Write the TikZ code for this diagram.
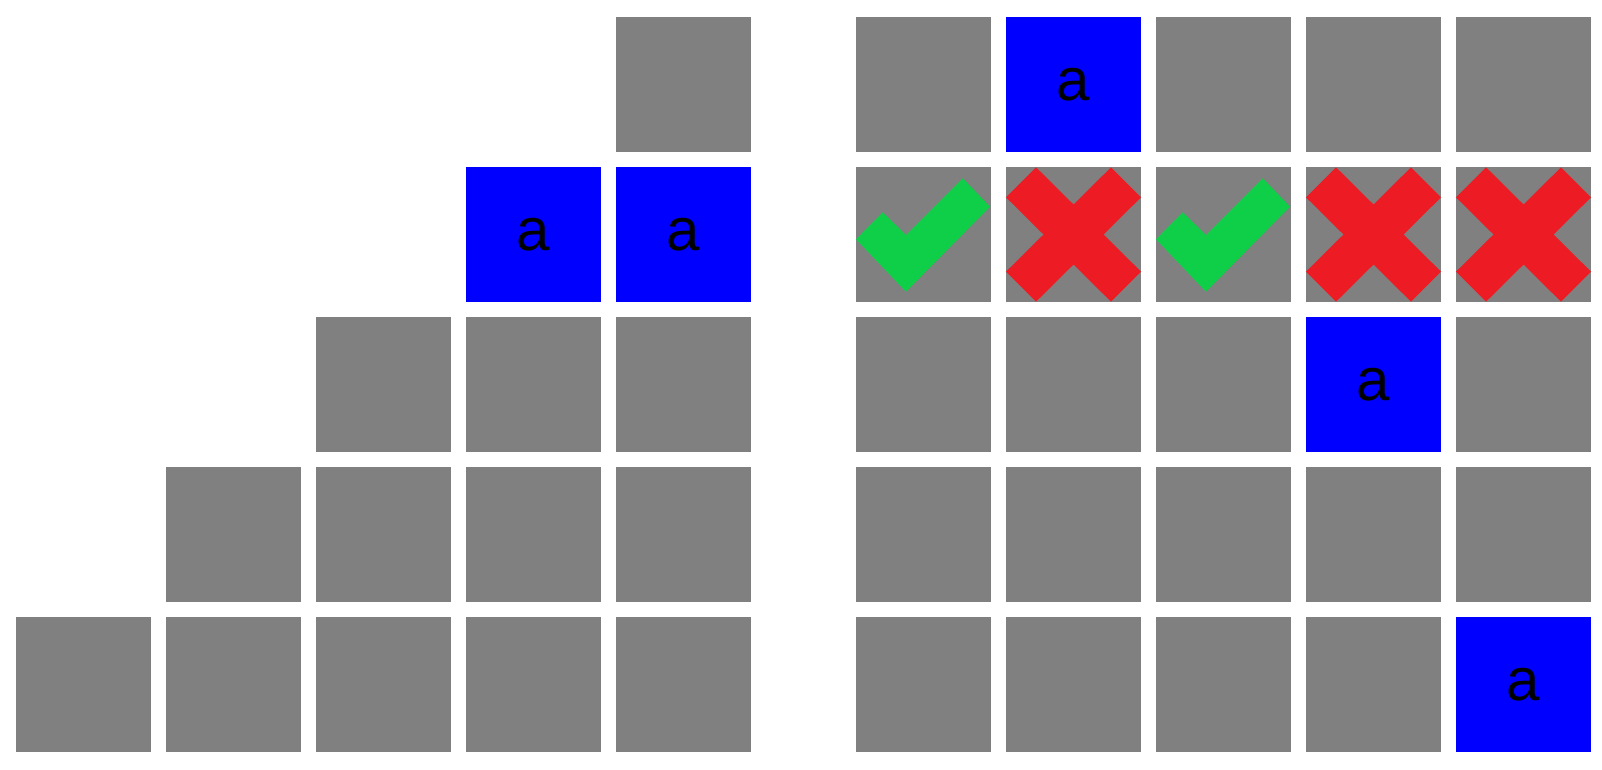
\documentclass[tikz,border=0pt]{standalone}
\usepackage{fontspec}
\setmainfont{Liberation Sans}
\definecolor{cgray}{HTML}{808080}
\definecolor{cblue}{HTML}{0000FF}
\definecolor{cgreen}{HTML}{0ECF47}
\definecolor{cred}{HTML}{ED1C24}
\begin{document}
\begin{tikzpicture}[x=1pt,y=-1pt,
  cell/.style={minimum size=135pt, inner sep=0pt, outer sep=0pt, anchor=north west,
    font=\fontsize{60}{60}\selectfont, text=black},
  gcell/.style={cell, fill=cgray},
  bcell/.style={cell, fill=cblue},
  checkmark/.style={fill=cgreen},
  crossmark/.style={fill=cred}]
\useasboundingbox (0,0) rectangle (1602,770);
% left staircase
\foreach \r/\c in {0/4, 2/2, 2/3, 2/4, 3/1, 3/2, 3/3, 3/4, 4/0, 4/1, 4/2, 4/3, 4/4}
  \node[gcell] (L-\r-\c) at ({16+150*\c},{17+150*\r}) {};
\foreach \r/\c in {1/3, 1/4}
  \node[bcell] (L-\r-\c) at ({16+150*\c},{17+150*\r}) {a};
% right grid
\foreach \r/\c in {0/0, 0/2, 0/3, 0/4,
                   1/0, 1/1, 1/2, 1/3, 1/4,
                   2/0, 2/1, 2/2, 2/4,
                   3/0, 3/1, 3/2, 3/3, 3/4,
                   4/0, 4/1, 4/2, 4/3}
  \node[gcell] (R-\r-\c) at ({856+150*\c},{17+150*\r}) {};
\foreach \r/\c in {0/1, 2/3, 4/4}
  \node[bcell] (R-\r-\c) at ({856+150*\c},{17+150*\r}) {a};
% check marks
\foreach \c in {0,2}
  \fill[checkmark, shift={(R-1-\c.north west)}]
    (0,72.3) -- (26.7,45.3) -- (50,68) -- (106.7,11.3) -- (134,39.7) -- (50,124.7) -- cycle;
% crosses
\foreach \c in {1,3,4}
  \fill[crossmark, shift={(R-1-\c.north west)}]
    (0,30.3) -- (30,0.3) -- (67.5,37.5) -- (105,0.3) -- (135,30.3) -- (97.5,67.5)
    -- (135,104.7) -- (105,134.7) -- (67.5,97.5) -- (30,134.7) -- (0,104.7) -- (37.5,67.5) -- cycle;
\end{tikzpicture}
\end{document}
